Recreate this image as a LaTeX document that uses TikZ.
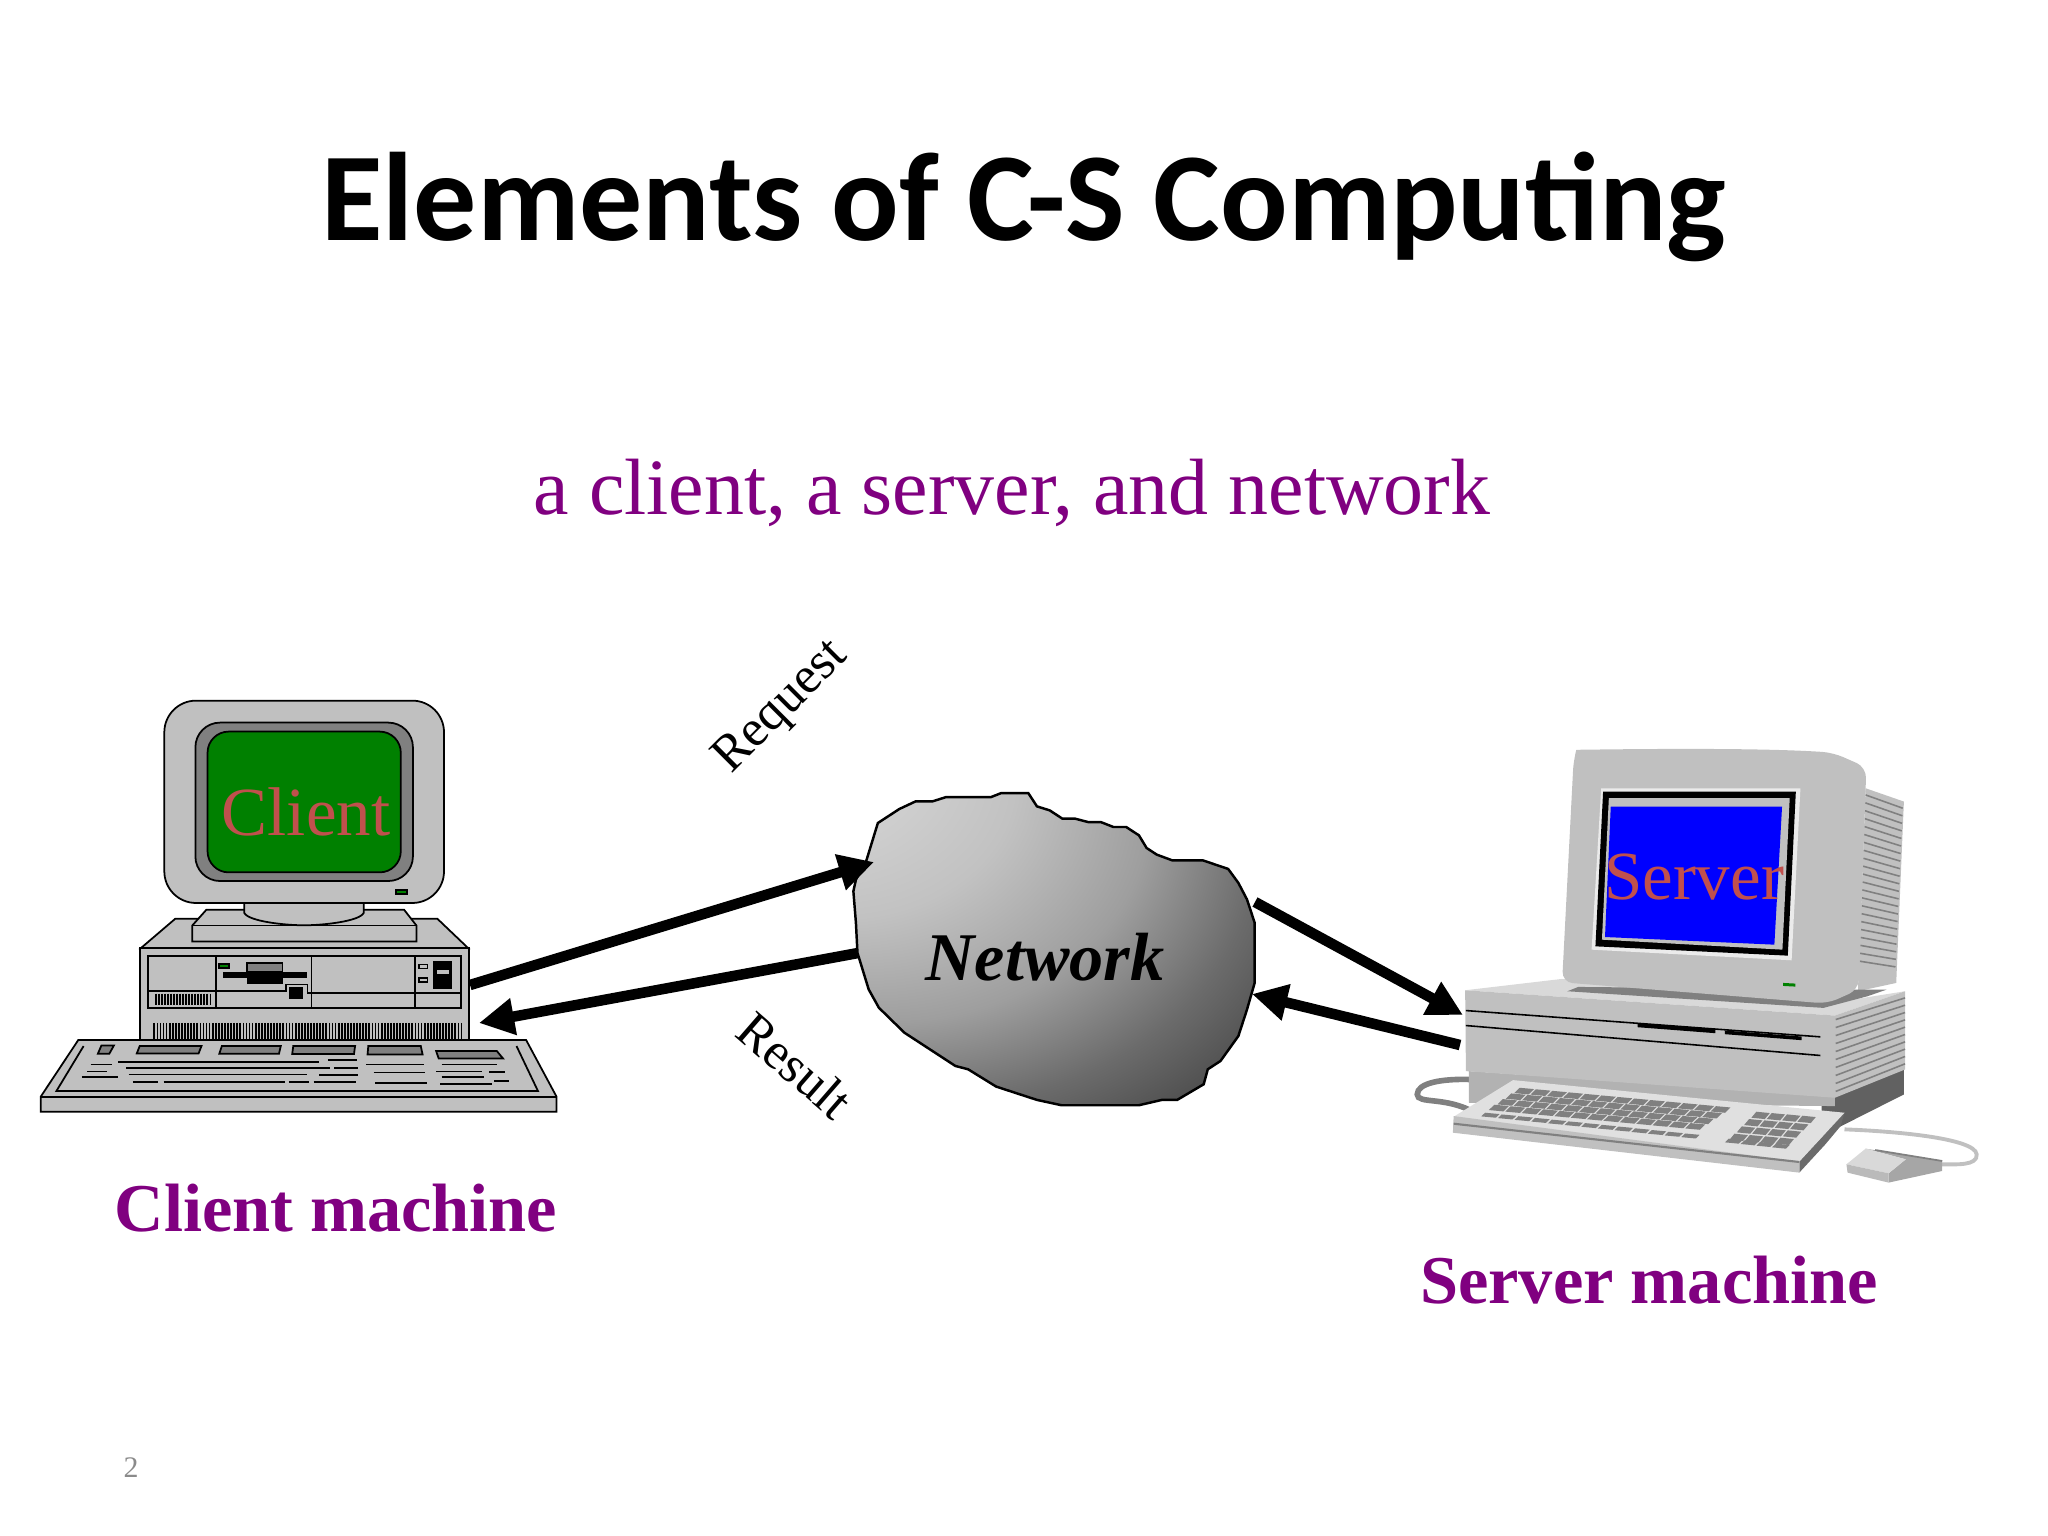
\documentclass[tikz,border=0pt]{standalone}
\usepackage{fontspec}
\setmainfont{Liberation Serif}
\newfontfamily\titlefont{Carlito}
\usetikzlibrary{positioning}
\usetikzlibrary{arrows.meta}
\definecolor{slidepurple}{HTML}{800080}
\definecolor{screenred}{HTML}{C0504D}
\definecolor{casegray}{HTML}{C0C0C0}
\definecolor{keygray}{HTML}{808080}
\definecolor{screengreen}{HTML}{008000}
\definecolor{pagegray}{HTML}{8B8B8B}
\pgfdeclareradialshading{netshade}{\pgfpoint{-38bp}{38bp}}{
  color(0bp)=(black!10);
  color(22bp)=(black!24);
  color(33bp)=(black!38);
  color(42bp)=(black!58);
  color(50bp)=(black!72);
  color(75bp)=(black!74)}
\tikzset{
lbl/.style={
  inner sep=0pt,
  outer sep=0pt,
  align=center
  },
machine/.style={
  lbl,
  text=slidepurple,
  font=\fontsize{19.45pt}{22pt}\selectfont\bfseries
  },
screentxt/.style={
  lbl,
  text=screenred,
  font=\fontsize{19.6pt}{22pt}\selectfont
  },
flowlbl/.style={
  lbl,
  font=\fontsize{14.7pt}{17pt}\selectfont
  },
part/.style={
  draw=black,
  line width=0.5pt,
  fill=casegray
  },
thin/.style={
  draw=black,
  line width=0.5pt
  },
fkey/.style={
  part,
  fill=keygray
  },
flow/.style={
  ->,
  line width=3pt
  },
stripe/.style={
  draw=keygray,
  line width=0.45pt
  }
}
\begin{document}
\begin{tikzpicture}[>={Triangle[length=10pt,width=10pt]},x=0.01cm,y=-0.01cm]
    \useasboundingbox (0,0) rectangle (2048,1536);
    \node[lbl,font=\titlefont\fontsize{35.8pt}{38pt}\selectfont\bfseries] (title) at (1024,207) {Elements of C-S Computing};
    \node[lbl,text=slidepurple,font=\fontsize{22.7pt}{26pt}\selectfont,xshift=-0.12cm] (subtitle) [below=1.97cm of title] {a client, a server, and network};

    % client machine
    \begin{scope}[shift={(20,680)},x=0.00357cm,y=-0.00333cm]
    \draw[part,rounded corners=9pt] (404,62) rectangle (1187,670);
    \draw[part,fill=keygray,rounded corners=7pt] (491,128) rectangle (1100,604);
    \draw[part,fill=screengreen,rounded corners=6pt] (525,155) rectangle (1066,578);
    \draw[part,fill=screengreen] (1053,630) rectangle (1083,642);
    \draw[part] (435,717) -- (1168,717) -- (1255,806) -- (338,806) -- cycle;
    \draw[part] (522,690) -- (1075,690) -- (1110,738) -- (1110,786) -- (482,786) -- (482,738) -- cycle;
    \draw[thin] (482,738) -- (1110,738);
    \draw[part] (628,670) -- (628,700) .. controls (640,725) and (740,737) .. (795,737) .. controls (850,737) and (950,725) .. (962,700) -- (962,670) -- cycle;
    \draw[part] (335,806) rectangle (1257,1082);
    \draw[part] (358,830) rectangle (1235,986);
    \draw[thin] (549,830) -- (549,986);
    \draw[thin] (816,830) -- (816,986);
    \draw[thin] (1105,830) -- (1105,986);
    \draw[thin] (358,935) -- (549,935);
    \draw[thin] (549,935) -- (745,935) -- (745,915) -- (805,915) -- (805,940) -- (1235,940);
    \foreach \x in {380,388.5,...,540}
        \draw[black,line width=0.5pt] (\x,942) -- (\x,977);
    \foreach \x in {376,384.6,...,1238}
        \draw[black,line width=0.5pt] (\x,1030) -- (\x,1082);
    \fill[black] (568,878) rectangle (804,895);
    \fill[black] (636,878) rectangle (735,912);
    \draw[fkey] (636,850) rectangle (735,878);
    \draw[part,fill=screengreen] (558,853) rectangle (586,865);
    \fill[black] (754,922) rectangle (792,958);
    \draw[part] (1116,855) rectangle (1141,867);
    \draw[part] (1116,895) rectangle (1141,907);
    \fill[black] (1155,845) rectangle (1210,927);
    \fill[casegray] (1166,872) rectangle (1200,884);

    \draw[part] (163,1082) -- (1417,1082) -- (1502,1252) -- (1502,1297) -- (58,1297) -- (58,1252) -- cycle;
    \draw[thin] (58,1252) -- (1502,1252);
    \draw[thin] (178,1100) -- (102,1235) -- (1450,1235) -- (1390,1100);
    \draw[fkey] (228,1098) -- (263,1098) -- (250,1123) -- (218,1123) -- cycle;
    \draw[fkey] (335,1100) -- (508,1100) -- (500,1122) -- (327,1122) -- cycle;
    \draw[fkey] (565,1100) -- (730,1100) -- (725,1123) -- (558,1123) -- cycle;
    \draw[fkey] (765,1100) -- (938,1100) -- (935,1124) -- (762,1124) -- cycle;
    \draw[fkey] (975,1100) -- (1122,1100) -- (1127,1125) -- (973,1125) -- cycle;
    \draw[fkey] (1165,1115) -- (1335,1115) -- (1352,1137) -- (1172,1137) -- cycle;
    \foreach \xa/\xb/\ya in {198/257/1155,188/244/1176,173/274/1193,275/837/1147,862/943/1142,
        298/868/1166,880/945/1166,304/804/1185,838/945/1188,316/386/1207,402/742/1207,
        753/808/1207,822/941/1208,970/1131/1155,1180/1336/1155,990/1135/1179,1165/1293/1176,
        1314/1358/1178,1180/1298/1193,995/1140/1210,1177/1321/1213,1328/1368/1204}
        \draw[thin] (\xa,\ya) -- (\xb,\ya);
    \end{scope}
    \node[screentxt,anchor=base] (clienttxt) at (306,835) {Client};
    \node[machine,anchor=base] (clientlbl) at (336,1231) {Client machine};

    % network
    \draw[black,line width=0.7pt,shade,shading=netshade,shift={(680,620)},x=0.0051cm,y=-0.00333cm]
    (388,610) -- (430,568) -- (462,545) -- (495,545) -- (522,532) -- (610,532) -- (630,520) -- (683,520)
    -- (700,560) -- (725,572) -- (750,597) -- (775,597) -- (800,607) -- (825,607) -- (850,622) -- (875,622)
    -- (900,647) -- (915,685) -- (935,705) -- (965,722) -- (1025,722) -- (1075,748) -- (1095,790) -- (1112,840)
    -- (1127,910) -- (1127,1090) -- (1112,1170) -- (1095,1250) -- (1060,1325) -- (1035,1350) -- (1027,1395)
    -- (975,1442) -- (945,1442) -- (900,1458) -- (748,1458) -- (700,1442) -- (620,1402) -- (565,1350) -- (540,1340)
    -- (500,1300) -- (440,1240) -- (390,1165) -- (370,1110) -- (348,1000) -- (345,910) -- (340,815) -- (345,780)
    -- (365,725) -- cycle;
    \node[lbl,font=\fontsize{19.4pt}{22pt}\selectfont\bfseries\itshape,anchor=base] (network) at (1045,980) {Network};

    \node[flowlbl,rotate=45] (request) at (782,708) {Request};
    \node[flowlbl,rotate=-41] (result) at (795,1065) {Result};

    % server machine
    \begin{scope}[shift={(1400,730)},x=0.003825cm,y=-0.00333cm]
    \draw[keygray,line width=1.6pt] (180,1050) .. controls (110,1048) and (45,1060) .. (45,1095)
    .. controls (45,1125) and (120,1100) .. (195,1150);
    \draw[casegray,line width=1.1pt] (1160,1200) .. controls (1280,1205) and (1500,1225) .. (1505,1275)
    .. controls (1508,1310) and (1450,1305) .. (1415,1305);
    \fill[black!62] (1135,1100) -- (1315,1020) -- (1315,1095) -- (1100,1220) -- (1100,1130) -- cycle;
    \fill[black!30] (180,1025) -- (1135,1100) -- (1135,1130) -- (180,1120) -- cycle;
    \fill[black!15] (170,782) -- (422,748) -- (1115,822) -- (1318,785) -- (1135,858) -- cycle;
    \fill[casegray] (170,782) -- (1135,858) -- (1135,1105) -- (172,1025) -- cycle;
    \fill[casegray] (1135,858) -- (1318,785) -- (1318,1020) -- (1135,1105) -- cycle;
    \foreach \i in {0,...,9}
        \draw[stripe] (1137,{870+\i*24}) -- (1318,{805+\i*22});
    \draw[black,line width=0.45pt] (172,843) -- (1097,922);
    \fill[black] (620,882) -- (823,899) -- (823,911) -- (620,893) -- cycle;
    \fill[black] (848,903) -- (1048,921) -- (1048,932) -- (848,914) -- cycle;
    \draw[black,line width=0.45pt] (172,888) -- (1097,978);

    \fill[casegray] (1215,175) -- (1315,215) -- (1295,760) -- (1195,785) -- cycle;
    \foreach \i in {0,...,21}
        \draw[stripe] ({1215-\i*0.71},{195+\i*23.8}) -- ({1312-\i*0.9},{235+\i*22.7});
    \fill[keygray] (465,772) -- (437,785) -- (1105,835) -- (1220,800) -- (1270,780) -- (1195,780) -- cycle;
    \fill[casegray,rounded corners=3pt] (453,90) .. controls (460,60) and (900,50) .. (1130,68) -- (1217,112)
    -- (1197,780) -- (1115,822) -- (423,758) -- cycle;
    \fill[black!8] (525,175) -- (1045,175) -- (1022,692) -- (500,660) -- cycle;
    \fill[black] (530,185) -- (1033,185) -- (1012,678) -- (510,650) -- cycle;
    \fill[casegray] (545,205) -- (1017,205) -- (998,660) -- (527,630) -- cycle;
    \fill[blue] (550,230) -- (997,230) -- (977,645) -- (535,622) -- cycle;
    \fill[screengreen] (1000,760) -- (1032,762) -- (1032,771) -- (1000,769) -- cycle;

    \fill[black!58] (1160,1150) -- (1150,1190) -- (1110,1245) -- (1042,1330) -- (1042,1295) -- cycle;
    \fill[black!12] (295,1052) -- (1160,1150) -- (1042,1297) -- (140,1162) -- cycle;
    \fill[casegray] (140,1160) -- (1042,1297) -- (1042,1330) -- (138,1210) -- cycle;
    \draw[keygray,line width=0.6pt] (140,1183) -- (1042,1298);
    \foreach \r in {0,...,3}
        \foreach \c in {0,...,12}
            \fill[keygray] ({312+\c*42.7-\r*22},{1075+\c*4.6+\r*17}) -- ++(38,4) -- ++(-14,16) -- ++(-38,-4) -- cycle;
    \foreach \c in {0,...,12}
        \fill[keygray] ({222+\c*43.5},{1150+\c*5.2}) -- ++(38,4) -- ++(-10,11) -- ++(-38,-4) -- cycle;
    \foreach \r in {0,...,3}
        \foreach \c in {0,...,3}
            \fill[keygray] ({930+\c*40-\r*19},{1147+\c*4+\r*22}) -- ++(35,4) -- ++(-13,18) -- ++(-35,-4) -- cycle;
    \foreach \c in {0,...,3}
        \fill[keygray] ({858+\c*41},{1228+\c*5}) -- ++(36,4) -- ++(-10,11) -- ++(-36,-4) -- cycle;

    \fill[black!35] (1215,1258) -- (1415,1295) -- (1415,1325) -- (1275,1360) -- (1275,1332) -- (1320,1290) -- cycle;
    \fill[black!15] (1165,1305) -- (1215,1258) -- (1320,1290) -- (1275,1332) -- cycle;
    \fill[black!27] (1165,1305) -- (1275,1332) -- (1275,1360) -- (1168,1330) -- cycle;
    \draw[keygray,line width=0.5pt] (1240,1262) -- (1415,1295);
    \end{scope}
    \node[screentxt,anchor=base] (servertxt) at (1694,899) {Server};
    \node[machine,anchor=base] (serverlbl) at (1649,1303) {Server machine};

    \coordinate (reqa) at (470,985);
    \coordinate (reqb) at (874,862);
    \coordinate (resa) at (858,953);
    \coordinate (resb) at (479,1023);
    \coordinate (reqc) at (1255,902);
    \coordinate (reqd) at (1463,1015);
    \coordinate (rese) at (1460,1045);
    \coordinate (resf) at (1252,994);
    \path[flow]
    (reqa) edge (reqb)
    (resa) edge (resb)
    (reqc) edge (reqd)
    (rese) edge (resf)
    ;

    \node[lbl,text=pagegray,font=\fontsize{8.5pt}{10pt}\selectfont] (pagenum) at (131,1468) {2};
\end{tikzpicture}
\end{document}
